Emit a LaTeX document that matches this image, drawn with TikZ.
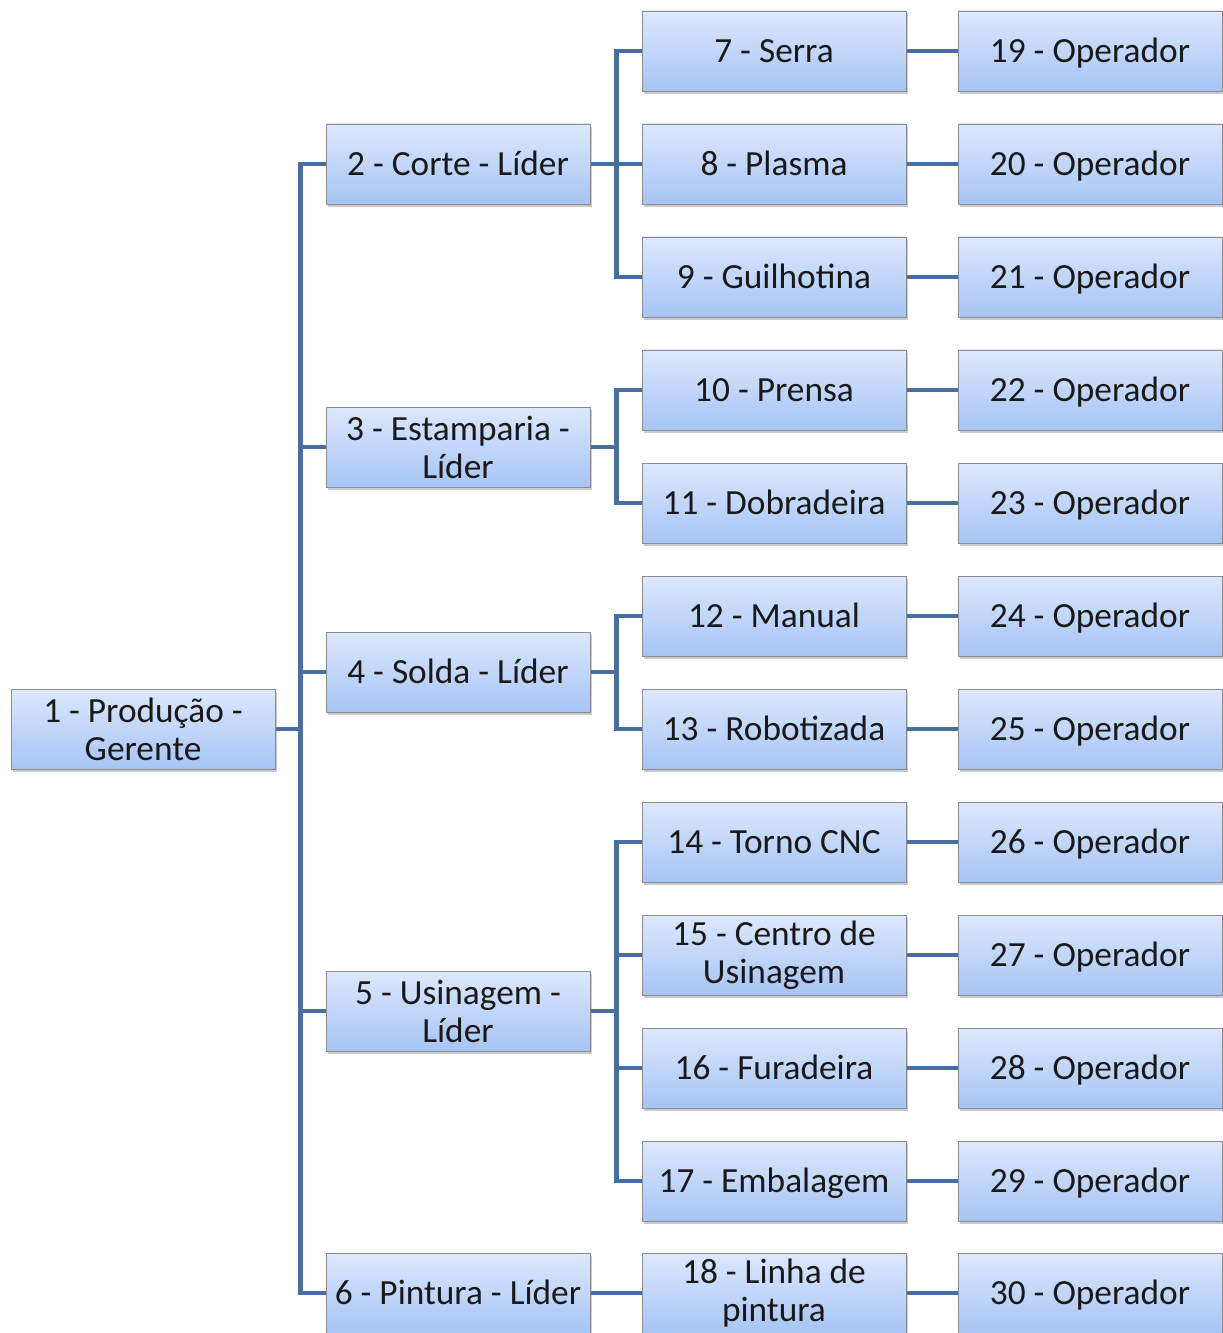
\documentclass[tikz,border=0pt]{standalone}
\usepackage{fontspec}
\setmainfont{Carlito}
\usetikzlibrary{shadows,backgrounds}
\definecolor{linkblue}{RGB}{72,110,164}
\definecolor{boxtop}{RGB}{221,232,253}
\definecolor{boxbot}{RGB}{166,196,245}
\definecolor{boxline}{RGB}{140,140,140}
\tikzset{
  orgbox/.style={rectangle, draw=boxline, line width=0.6pt,
    top color=boxtop, bottom color=boxbot,
    minimum width=198pt, minimum height=60pt, inner sep=2pt,
    align=center, text=black!90,
    font=\fontsize{26.5}{28.5}\selectfont,
    drop shadow={shadow xshift=1.2pt, shadow yshift=-2pt, opacity=0.35, fill=black!60}},
  onebox/.style={orgbox, text height=17pt, text depth=0pt},
  link/.style={draw=linkblue, line width=3.6pt}
}
\begin{document}
\begin{tikzpicture}[x=0.75pt,y=-0.75pt]
\useasboundingbox (0,0) rectangle (1222,1333);
% level 1
\node[orgbox] (n1) at (143,729) {1 - Produção -\\Gerente};
% level 2
\node[onebox] (n2) at (458,164) {2 - Corte - Líder};
\node[orgbox] (n3) at (458,447) {3 - Estamparia -\\Líder};
\node[onebox] (n4) at (458,672) {4 - Solda - Líder};
\node[orgbox] (n5) at (458,1011) {5 - Usinagem -\\Líder};
\node[onebox] (n6) at (458,1293) {6 - Pintura - Líder};
% level 3
\node[onebox] (n7)  at (774,51)   {7 - Serra};
\node[onebox] (n8)  at (774,164)  {8 - Plasma};
\node[onebox] (n9)  at (774,277)  {9 - Guilhotina};
\node[onebox] (n10) at (774,390)  {10 - Prensa};
\node[onebox] (n11) at (774,503)  {11 - Dobradeira};
\node[onebox] (n12) at (774,616)  {12 - Manual};
\node[onebox] (n13) at (774,729)  {13 - Robotizada};
\node[onebox] (n14) at (774,842)  {14 - Torno CNC};
\node[orgbox] (n15) at (774,955)  {15 - Centro de\\Usinagem};
\node[onebox] (n16) at (774,1068) {16 - Furadeira};
\node[onebox] (n17) at (774,1181) {17 - Embalagem};
\node[orgbox] (n18) at (774,1293) {18 - Linha de\\pintura};
% level 4
\foreach \i/\y in {19/51,20/164,21/277,22/390,23/503,24/616,25/729,26/842,27/955,28/1068,29/1181,30/1293}
  \node[onebox] (n\i) at (1090,\y) {\i{} - Operador};
% connectors
\begin{scope}[on background layer]
  \foreach \c in {n2,n3,n4,n5,n6}
    \draw[link] (n1.east) -- +(25,0) |- (\c.west);
  \foreach \c in {n7,n8,n9}
    \draw[link] (n2.east) -- +(26,0) |- (\c.west);
  \foreach \c in {n10,n11}
    \draw[link] (n3.east) -- +(26,0) |- (\c.west);
  \foreach \c in {n12,n13}
    \draw[link] (n4.east) -- +(26,0) |- (\c.west);
  \foreach \c in {n14,n15,n16,n17}
    \draw[link] (n5.east) -- +(26,0) |- (\c.west);
  \draw[link] (n6.east) -- (n18.west);
  \foreach \a/\b in {7/19,8/20,9/21,10/22,11/23,12/24,13/25,14/26,15/27,16/28,17/29,18/30}
    \draw[link] (n\a.east) -- (n\b.west);
\end{scope}
\end{tikzpicture}
\end{document}
